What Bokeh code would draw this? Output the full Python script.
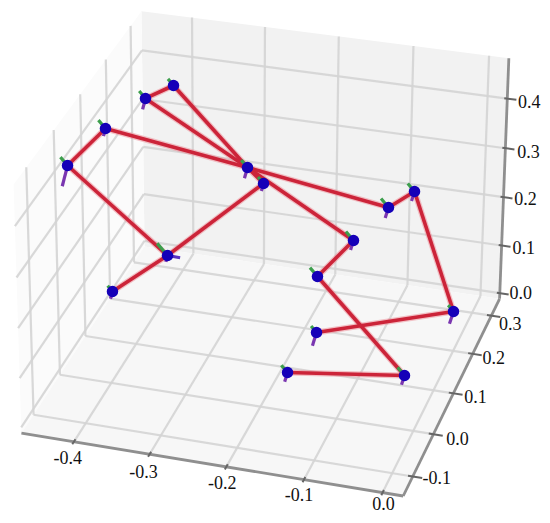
import numpy as np
from bokeh.plotting import figure
from bokeh.models import ColumnDataSource, Range1d
from bokeh.core.properties import value
from bokeh.embed import file_html
from bokeh.resources import INLINE

# ---- data ----
x_ticks = [-0.4, -0.3, -0.2, -0.1, 0.0]
y_ticks = [-0.1, 0.0, 0.1, 0.2, 0.3]
z_ticks = [0.0, 0.1, 0.2, 0.3, 0.4]
x_lim = (-0.47, 0.026)
y_lim = (-0.145, 0.345)
z_lim = (-0.012, 0.48)
joint_x = [-0.1646, -0.0258, -0.1553, -0.1089, -0.2484, -0.3828, -0.3521, -0.2273,
           -0.3389, -0.3962, -0.4345, -0.4016, -0.0906, -0.0620, -0.0012, -0.1557]
joint_y = [0.0, 0.05, 0.1, 0.1, 0.1, 0.1, 0.12, 0.1, 0.05, 0.0, -0.05, 0.0, 0.2, 0.22, 0.2, 0.1]
joint_z = [0.0665, 0.0531, 0.1836, 0.2663, 0.3809, 0.4889, 0.5065, 0.3538,
           0.2231, 0.1762, 0.4545, 0.4970, 0.2614, 0.2849, 0.0693, 0.0695]
bones_from = [0, 1, 2, 3, 4, 5, 6, 4, 7, 8, 8, 10, 11, 4, 12, 13, 14]
bones_to = [1, 2, 3, 4, 5, 6, 4, 7, 8, 9, 10, 11, 4, 12, 13, 14, 15]
green_len = [0.9, 1.0, 1.1, 1.1, 0.9, 0.9, 0.8, 0.8, 1.5, 0.7, 1.0, 1.0, 1.1, 1.0, 0.8, 0.8]
purple_len = [0.9, 0.9, 0.4, 0.9, 1.0, 1.0, 0.4, 0.7, 0.6, 0.7, 1.9, 0.7, 1.0, 0.9, 1.2, 1.3]
blue_len = [0.2, 0.2, 0.2, 0.2, 0.2, 0.2, 0.2, 0.2, 0.8, 0.2, 0.2, 0.2, 0.2, 0.2, 0.2, 0.2]

# ---- camera (view of the 3D box) ----
CAM = np.array([1.4975, 0.55439, -0.03378, 0.82584, 0.19327, -0.68198, -1.04311, 0.8492,
                -0.06192, 0.17142, -0.07245, 1.0]).reshape(3, 4)
SCALE = 500.0


def pr(x, y, z):
    h = CAM @ np.array([x, y, z, 1.0])
    return float(h[0] / h[2] * SCALE), float(h[1] / h[2] * SCALE)


def seg(a, b):
    pa, pb = pr(*a), pr(*b)
    return [pa[0], pb[0]], [pa[1], pb[1]]


def poly(pts):
    p = [pr(*q) for q in pts]
    return [a for a, _ in p], [b for _, b in p]


x0, x1 = x_lim
y0, y1 = y_lim
z0, z1 = z_lim

p = figure(width=542, height=515, output_backend="svg", toolbar_location=None,
           x_range=Range1d(0, 542), y_range=Range1d(515, 0), min_border=0,
           background_fill_color="white", border_fill_color="white", outline_line_color=None)
p.axis.visible = False
p.grid.visible = False

for pts, col in [
    ([(x0, y1, z0), (x1, y1, z0), (x1, y1, z1), (x0, y1, z1)], "#f2f2f2"),
    ([(x0, y0, z0), (x0, y1, z0), (x0, y1, z1), (x0, y0, z1)], "#fbfbfb"),
    ([(x0, y0, z0), (x1, y0, z0), (x1, y1, z0), (x0, y1, z0)], "#f7f7f7"),
]:
    a, b = poly(pts)
    p.patch(a, b, fill_color=col, line_color=None)

gx, gy = [], []
for v in x_ticks:
    for s in [((v, y0, z0), (v, y1, z0)), ((v, y1, z0), (v, y1, z1))]:
        a, b = seg(*s); gx.append(a); gy.append(b)
for v in y_ticks:
    for s in [((x0, v, z0), (x1, v, z0)), ((x0, v, z0), (x0, v, z1))]:
        a, b = seg(*s); gx.append(a); gy.append(b)
for v in z_ticks:
    for s in [((x0, y1, v), (x1, y1, v)), ((x0, y0, v), (x0, y1, v))]:
        a, b = seg(*s); gx.append(a); gy.append(b)
p.multi_line(gx, gy, line_color="#d4d4d4", line_width=2.2, line_alpha=0.9)

ax, ay = [], []
for s in [((x0, y0, z0), (x1, y0, z0)), ((x1, y0, z0), (x1, y1, z0)), ((x1, y1, z0), (x1, y1, z1))]:
    a, b = seg(*s); ax.append(a); ay.append(b)
p.multi_line(ax, ay, line_color="#8f8f8f", line_width=2.8)

tx, ty = [], []
for v in x_ticks:
    a, b = seg((v, y0 - 0.006, z0), (v, y0 + 0.006, z0)); tx.append(a); ty.append(b)
for v in y_ticks:
    a, b = seg((x1 - 0.006, v, z0), (x1 + 0.012, v, z0)); tx.append(a); ty.append(b)
for v in z_ticks:
    a, b = seg((x1 - 0.004, y1, v), (x1 + 0.012, y1, v)); tx.append(a); ty.append(b)
p.multi_line(tx, ty, line_color="#666666", line_width=2.0)

# skeleton
J = [(joint_x[i], joint_y[i], joint_z[i]) for i in range(len(joint_x))]
bx, by = [], []
for f, t in zip(bones_from, bones_to):
    a, b = seg(J[f], J[t]); bx.append(a); by.append(b)
p.multi_line(bx, by, line_color="#ee8a94", line_width=6, line_alpha=0.5)
p.multi_line(bx, by, line_color="#cc2439", line_width=3.6)

GREEN_DIR = (-0.0091, 0.0, 0.0143)
PURPLE_DIR = (-0.0040, 0.0, -0.0220)
BLUE_DIR = (0.0210, 0.0, -0.0010)


def triad(lengths, d):
    xs, ys = [], []
    for j, l in zip(J, lengths):
        a, b = seg(j, (j[0] + d[0] * l, j[1] + d[1] * l, j[2] + d[2] * l))
        xs.append(a); ys.append(b)
    return xs, ys


a, b = triad(green_len, GREEN_DIR)
p.multi_line(a, b, line_color="#3c9e4c", line_width=3.2)
a, b = triad(purple_len, PURPLE_DIR)
p.multi_line(a, b, line_color="#7a36b0", line_width=3.2)
a, b = triad(blue_len, BLUE_DIR)
p.multi_line(a, b, line_color="#5a30c0", line_width=3.2)

jp = [pr(*j) for j in J]
p.scatter([q[0] for q in jp], [q[1] for q in jp], size=11.5, fill_color="#1500b8", line_color=None)

# tick labels
x_off = [(-6, 16), (-6, 17), (-4, 16), (-5, 15), (1, 11)]
y_off = [(24, 1), (24, 4), (22, 3), (21, 4), (19, 8)]
z_off = [(21, -1), (22, 2), (22, 1), (23, 3), (22, 3)]
lx, ly, lt, ldx, ldy = [], [], [], [], []
for ticks, fn, off in [
    (x_ticks, lambda v: (v, y0, z0), x_off),
    (y_ticks, lambda v: (x1, v, z0), y_off),
    (z_ticks, lambda v: (x1, y1, v), z_off),
]:
    for v, o in zip(ticks, off):
        q = pr(*fn(v))
        lx.append(q[0]); ly.append(q[1]); lt.append(f"{v:.1f}"); ldx.append(o[0]); ldy.append(o[1])
src = ColumnDataSource(dict(x=lx, y=ly, t=lt, dx=ldx, dy=ldy))
p.text("x", "y", text="t", source=src, x_offset="dx", y_offset="dy",
       text_font=value("Liberation Serif"), text_font_size="18px", text_color="#111111",
       text_align="center", text_baseline="middle")

open("out.html", "w").write(file_html(p, INLINE))
